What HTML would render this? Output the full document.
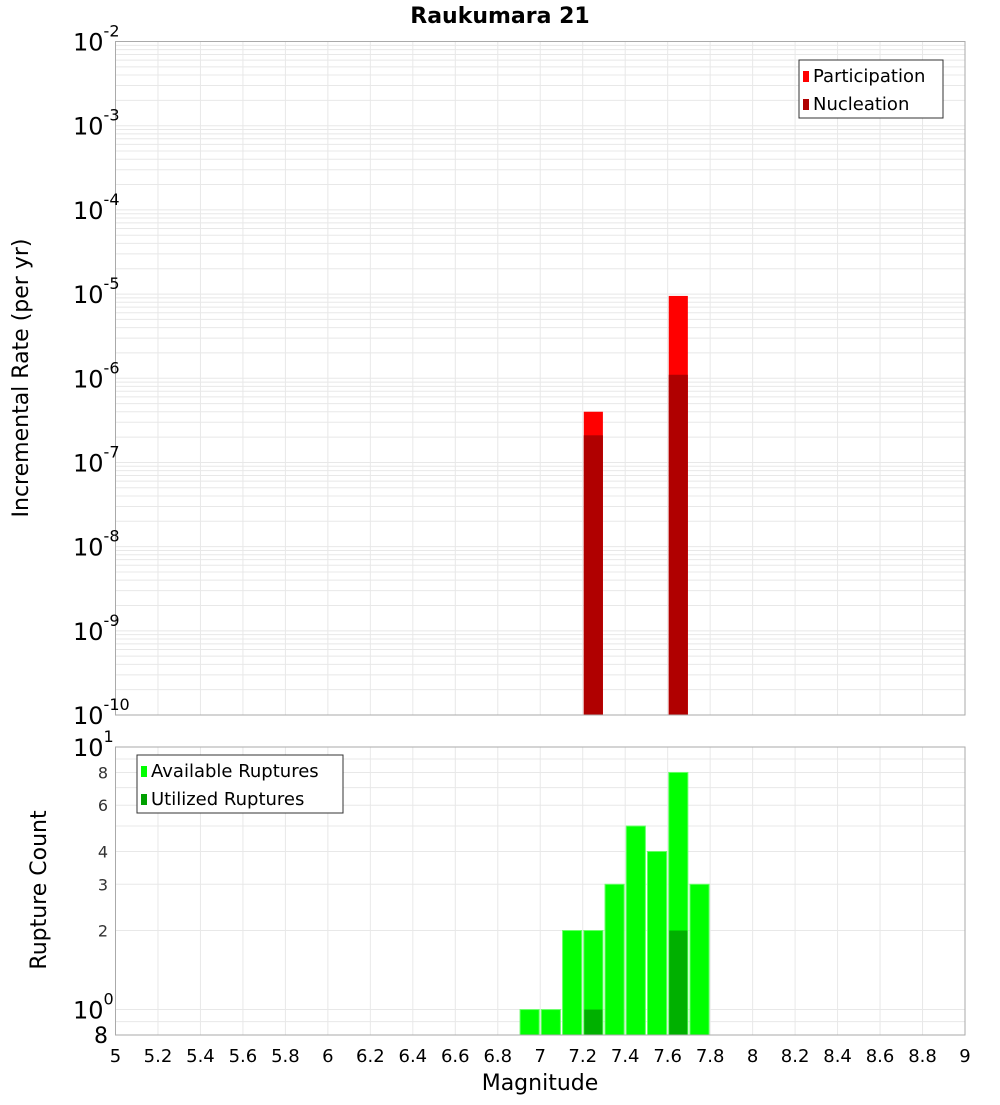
<!DOCTYPE html>
<html><head><meta charset="utf-8"><style>
body{margin:0;background:#fff;}
svg text{font-family:"DejaVu Sans","Liberation Sans",sans-serif;}
</style></head><body>
<svg id="c" width="1000" height="1100" xmlns="http://www.w3.org/2000/svg">
<text x="500" y="23" text-anchor="middle" font-size="22" font-weight="bold">Raukumara 21</text>
<g id="topPlot"></g>
<g id="botPlot"></g>
<text transform="translate(28,378) rotate(-90)" text-anchor="middle" font-size="22">Incremental Rate (per yr)</text>
<text transform="translate(46,890) rotate(-90)" text-anchor="middle" font-size="22">Rupture Count</text>
<text x="540" y="1090" text-anchor="middle" font-size="22">Magnitude</text>
</svg>
<script>
const rateMags=[7.25,7.65];
const participation=[4e-7,9.5e-6];
const nucleation=[2.1e-7,1.1e-6];
const countMags=[6.95,7.05,7.15,7.25,7.35,7.45,7.55,7.65,7.75];
const available=[1,1,2,2,3,5,4,8,3];
const utilMags=[7.25,7.65];
const utilized=[1,2];
const xTicks=[5,5.2,5.4,5.6,5.8,6,6.2,6.4,6.6,6.8,7,7.2,7.4,7.6,7.8,8,8.2,8.4,8.6,8.8,9];
const rateExps=[-10,-9,-8,-7,-6,-5,-4,-3,-2];
const countTicks=[8,6,4,3,2];

const NS='http://www.w3.org/2000/svg';
const L=115.5,R=965,T1=41.5,B1=715,T2=747,B2=1035;
const X=m=>L+(m-5)/4*(R-L);
const Y1=v=>B1-(Math.log10(v)+10)/8*(B1-T1);
const c0=Math.log10(0.8),c1=1;
const Y2=v=>B2-(Math.log10(v)-c0)/(c1-c0)*(B2-T2);
function mk(p,t,a,txt){const e=document.createElementNS(NS,t);for(const k in a)e.setAttribute(k,a[k]);if(txt!==undefined)e.textContent=txt;p.appendChild(e);return e;}
const topG=document.getElementById('topPlot'),botG=document.getElementById('botPlot');
for(let d=-10;d<-2;d++)for(let k=1;k<10;k++){const y=Y1(k*Math.pow(10,d));
const g=mk(topG,'line',{x1:L,x2:R,y1:y,y2:y,stroke:'#e8e8e8','stroke-width':1});

}
for(const t of xTicks){const x=X(t);
const g=mk(topG,'line',{x1:x,x2:x,y1:T1,y2:B1,stroke:'#e8e8e8'});


const g2=mk(botG,'line',{x1:x,x2:x,y1:T2,y2:B2,stroke:'#e8e8e8'});

}
for(const v of [0.9,1,2,3,4,5,6,7,8,9]){const y=Y2(v);
const g=mk(botG,'line',{x1:L,x2:R,y1:y,y2:y,stroke:'#e8e8e8'});

}
const bw=0.09;
rateMags.forEach((m,i)=>{
const x=X(m-bw/2),w=X(m+bw/2)-x;
const b=mk(topG,'rect',{x:x,y:Y1(participation[i]),width:w,height:B1-Y1(participation[i]),fill:'#ff0000'});


const n=mk(topG,'rect',{x:x,y:Y1(nucleation[i]),width:w,height:B1-Y1(nucleation[i]),fill:'#b00000'});

});
countMags.forEach((m,i)=>{
const x=X(m-bw/2),w=X(m+bw/2)-x;
const b=mk(botG,'rect',{x:x,y:Y2(available[i]),width:w,height:B2-Y2(available[i]),fill:'#00ff00',stroke:'#66ff66','stroke-width':1});

});
utilMags.forEach((m,i)=>{
const x=X(m-bw/2),w=X(m+bw/2)-x;
const b=mk(botG,'rect',{x:x+0.5,y:Y2(utilized[i]),width:w-1,height:B2-Y2(utilized[i]),fill:'#00b000'});

});
const f1=mk(topG,'rect',{x:L,y:T1,width:R-L,height:B1-T1,fill:'none',stroke:'#aaa'});


const f2=mk(botG,'rect',{x:L,y:T2,width:R-L,height:B2-T2,fill:'none',stroke:'#aaa'});


for(const e of rateExps){const y=Y1(Math.pow(10,e));
const t=mk(topG,'text',{x:73,y:y+9,'font-size':24});


mk(t,'tspan',{},'10');mk(t,'tspan',{dy:-14,'font-size':16},String(e));}
[[1,'1'],[0,'0']].forEach(([e,s])=>{const y=Y2(Math.pow(10,e));
const t=mk(botG,'text',{x:73,y:y+9,'font-size':24});


mk(t,'tspan',{},'10');mk(t,'tspan',{dy:-14,'font-size':16},s);});
for(const v of countTicks){const y=Y2(v);
const t=mk(botG,'text',{x:108,y:y+6,'font-size':16,'text-anchor':'end',fill:'#333'},String(v));

}
const t8=mk(botG,'text',{x:108,y:Y2(0.8)+8,'font-size':22,'text-anchor':'end'},'8');


for(const v of xTicks){const t=mk(botG,'text',{x:X(v),y:1062,'font-size':18,'text-anchor':'middle'},String(v));

}
function legend(p,x,y,w,items){
const g=mk(p,'g',{});


mk(g,'rect',{x:x,y:y,width:w,height:58,fill:'#fff',stroke:'#333'});
items.forEach(([lab,col],i)=>{
const e=mk(g,'g',{});


mk(e,'rect',{x:x+4,y:y+11+i*28,width:6,height:11,fill:col});
mk(e,'text',{x:x+14,y:y+22+i*28,'font-size':18},lab);});}
legend(topG,799,60,144,[['Participation','#ff0000'],['Nucleation','#b00000']]);
legend(botG,137,755,206,[['Available Ruptures','#00ff00'],['Utilized Ruptures','#00a000']]);
</script>
</body></html>
